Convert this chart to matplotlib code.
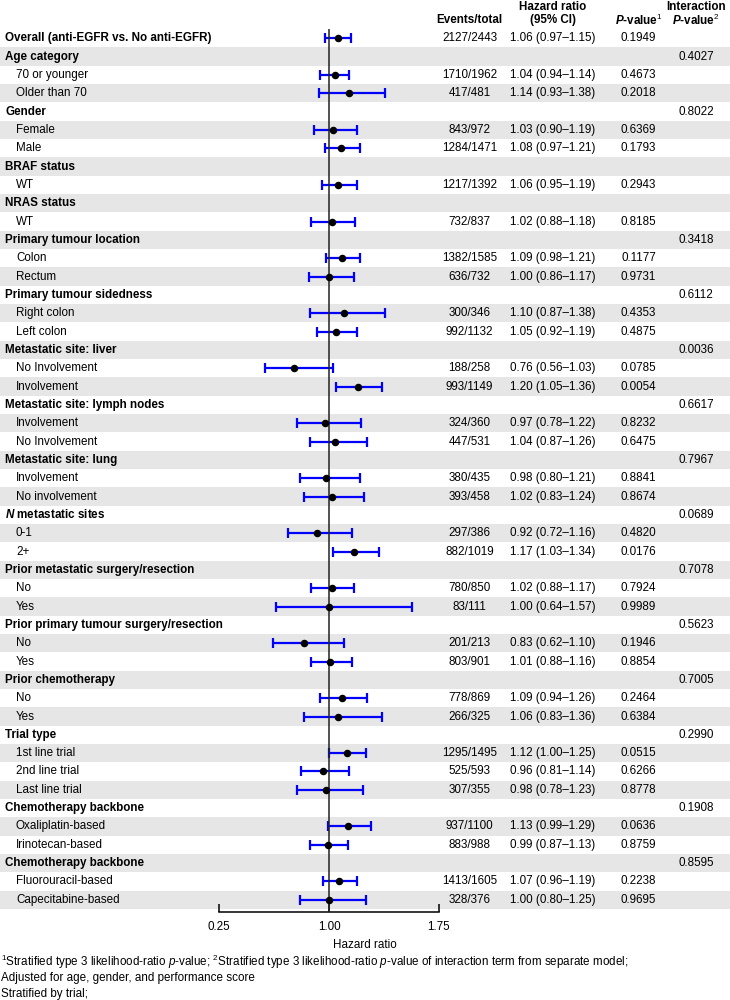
import matplotlib
matplotlib.use("Agg")
import matplotlib.pyplot as plt
import matplotlib.transforms as mtransforms
import numpy as np

plt.rcParams['font.family'] = ['Liberation Sans', 'DejaVu Sans']
plt.rcParams['mathtext.fontset'] = 'custom'
plt.rcParams['mathtext.rm'] = 'Liberation Sans'
plt.rcParams['mathtext.it'] = 'Liberation Sans:italic'
plt.rcParams['mathtext.bf'] = 'Liberation Sans:bold'
plt.rcParams['mathtext.bfit'] = 'Liberation Sans:bold:italic'

# ---------------- data ----------------
labels = [
    "Overall (anti-EGFR vs. No anti-EGFR)",
    "Age category", "70 or younger", "Older than 70",
    "Gender", "Female", "Male",
    "BRAF status", "WT",
    "NRAS status", "WT",
    "Primary tumour location", "Colon", "Rectum",
    "Primary tumour sidedness", "Right colon", "Left colon",
    "Metastatic site: liver", "No Involvement", "Involvement",
    "Metastatic site: lymph nodes", "Involvement", "No Involvement",
    "Metastatic site: lung", "Involvement", "No involvement",
    r"$\mathbfit{N}$ metastatic sites", "0-1", "2+",
    "Prior metastatic surgery/resection", "No", "Yes",
    "Prior primary tumour surgery/resection", "No", "Yes",
    "Prior chemotherapy", "No", "Yes",
    "Trial type", "1st line trial", "2nd line trial", "Last line trial",
    "Chemotherapy backbone", "Oxaliplatin-based", "Irinotecan-based",
    "Chemotherapy backbone", "Fluorouracil-based", "Capecitabine-based",
]
is_header = [
    1,
    1, 0, 0,
    1, 0, 0,
    1, 0,
    1, 0,
    1, 0, 0,
    1, 0, 0,
    1, 0, 0,
    1, 0, 0,
    1, 0, 0,
    1, 0, 0,
    1, 0, 0,
    1, 0, 0,
    1, 0, 0,
    1, 0, 0, 0,
    1, 0, 0,
    1, 0, 0,
]
events = [
    "2127/2443",
    "", "1710/1962", "417/481",
    "", "843/972", "1284/1471",
    "", "1217/1392",
    "", "732/837",
    "", "1382/1585", "636/732",
    "", "300/346", "992/1132",
    "", "188/258", "993/1149",
    "", "324/360", "447/531",
    "", "380/435", "393/458",
    "", "297/386", "882/1019",
    "", "780/850", "83/111",
    "", "201/213", "803/901",
    "", "778/869", "266/325",
    "", "1295/1495", "525/593", "307/355",
    "", "937/1100", "883/988",
    "", "1413/1605", "328/376",
]
hr = [
    1.06,
    None, 1.04, 1.14,
    None, 1.03, 1.08,
    None, 1.06,
    None, 1.02,
    None, 1.09, 1.00,
    None, 1.10, 1.05,
    None, 0.76, 1.20,
    None, 0.97, 1.04,
    None, 0.98, 1.02,
    None, 0.92, 1.17,
    None, 1.02, 1.00,
    None, 0.83, 1.01,
    None, 1.09, 1.06,
    None, 1.12, 0.96, 0.98,
    None, 1.13, 0.99,
    None, 1.07, 1.00,
]
ci_low = [
    0.97,
    None, 0.94, 0.93,
    None, 0.90, 0.97,
    None, 0.95,
    None, 0.88,
    None, 0.98, 0.86,
    None, 0.87, 0.92,
    None, 0.56, 1.05,
    None, 0.78, 0.87,
    None, 0.80, 0.83,
    None, 0.72, 1.03,
    None, 0.88, 0.64,
    None, 0.62, 0.88,
    None, 0.94, 0.83,
    None, 1.00, 0.81, 0.78,
    None, 0.99, 0.87,
    None, 0.96, 0.80,
]
ci_high = [
    1.15,
    None, 1.14, 1.38,
    None, 1.19, 1.21,
    None, 1.19,
    None, 1.18,
    None, 1.21, 1.17,
    None, 1.38, 1.19,
    None, 1.03, 1.36,
    None, 1.22, 1.26,
    None, 1.21, 1.24,
    None, 1.16, 1.34,
    None, 1.17, 1.57,
    None, 1.10, 1.16,
    None, 1.26, 1.36,
    None, 1.25, 1.14, 1.23,
    None, 1.29, 1.13,
    None, 1.19, 1.25,
]
p_value = [
    "0.1949",
    "", "0.4673", "0.2018",
    "", "0.6369", "0.1793",
    "", "0.2943",
    "", "0.8185",
    "", "0.1177", "0.9731",
    "", "0.4353", "0.4875",
    "", "0.0785", "0.0054",
    "", "0.8232", "0.6475",
    "", "0.8841", "0.8674",
    "", "0.4820", "0.0176",
    "", "0.7924", "0.9989",
    "", "0.1946", "0.8854",
    "", "0.2464", "0.6384",
    "", "0.0515", "0.6266", "0.8778",
    "", "0.0636", "0.8759",
    "", "0.2238", "0.9695",
]
p_interaction = [
    "",
    "0.4027", "", "",
    "0.8022", "", "",
    "", "",
    "", "",
    "0.3418", "", "",
    "0.6112", "", "",
    "0.0036", "", "",
    "0.6617", "", "",
    "0.7967", "", "",
    "0.0689", "", "",
    "0.7078", "", "",
    "0.5623", "", "",
    "0.7005", "", "",
    "0.2990", "", "", "",
    "0.1908", "", "",
    "0.8595", "", "",
]
x_ticks = [0.25, 1.00, 1.75]
x_tick_labels = ["0.25", "1.00", "1.75"]

# ---------------- layout ----------------
W, H = 730, 1000
FS = 8.4
row0_y = 38.3
row_h = 18.33
axis_y = 912
n = len(labels)
px_per_unit = 146.27
x_one = 329

fig = plt.figure(figsize=(W / 100, H / 100), dpi=100)
top_px = row0_y - row_h / 2
ax = fig.add_axes([0, 1 - axis_y / H, 1, (axis_y - top_px) / H])
ax.set_xlim(1 - x_one / px_per_unit, 1 + (W - x_one) / px_per_unit)
ax.set_ylim((n - 0.5) + (axis_y - (row0_y + (n - 0.5) * row_h)) / row_h, -0.5)

rows = np.arange(n)
for i in rows:
    if i % 2 == 1:
        ax.axhspan(i - 0.5, i + 0.5, xmin=0, xmax=1, color='#e6e6e6', lw=0, zorder=0)

# CIs
idx = [i for i in rows if hr[i] is not None]
hr_a = np.array([hr[i] for i in idx])
lo_a = np.array([ci_low[i] for i in idx])
hi_a = np.array([ci_high[i] for i in idx])
y_a = np.array(idx, dtype=float)
ax.errorbar(hr_a, y_a, xerr=[hr_a - lo_a, hi_a - hr_a], fmt='none',
            ecolor='#0000ff', elinewidth=1.6, capsize=3.9, capthick=1.6, zorder=2)
ax.axvline(1.0, ymin=0, ymax=1, color='#222222', lw=1.1, zorder=3)
ax.plot(hr_a, y_a, 'o', color='black', markersize=4.4, zorder=4)

# axis styling
for s in ['top', 'left', 'right']:
    ax.spines[s].set_visible(False)
ax.spines['bottom'].set_bounds(x_ticks[0], x_ticks[-1])
ax.spines['bottom'].set_linewidth(1.1)
ax.set_xticks(x_ticks)
ax.set_xticklabels(x_tick_labels, fontsize=FS)
ax.tick_params(axis='x', direction='in', length=5.8, width=1.1, pad=6.5)
ax.set_yticks([])
ax.set_xlabel("Hazard ratio", fontsize=FS, labelpad=4.5)
ax.patch.set_alpha(0)

trans = mtransforms.blended_transform_factory(fig.transFigure, ax.transData)

def fx(px):
    return px / W

col_events = 469.5
col_hr = 553
col_p = 638.5
col_pint = 696

for i in rows:
    if is_header[i]:
        ax.text(fx(5), i, labels[i], transform=trans, fontsize=FS, fontweight='bold',
                va='center', ha='left')
    else:
        ax.text(fx(16), i, labels[i], transform=trans, fontsize=FS,
                va='center', ha='left')
    if events[i]:
        ax.text(fx(col_events), i, events[i], transform=trans, fontsize=FS, va='center', ha='center')
    if hr[i] is not None:
        ax.text(fx(col_hr), i, f"{hr[i]:.2f} ({ci_low[i]:.2f}\u2013{ci_high[i]:.2f})",
                transform=trans, fontsize=FS, va='center', ha='center')
    if p_value[i]:
        ax.text(fx(col_p), i, p_value[i], transform=trans, fontsize=FS, va='center', ha='center')
    if p_interaction[i]:
        ax.text(fx(col_pint), i, p_interaction[i], transform=trans, fontsize=FS, va='center', ha='center')

# headers
y_l2 = (20 - row0_y) / row_h
y_l1 = (6.5 - row0_y) / row_h
hdr = dict(transform=trans, fontsize=FS, fontweight='bold', va='center', ha='center', clip_on=False)
ax.text(fx(col_events), y_l2, "Events/total", **hdr)
ax.text(fx(col_hr), y_l1, "Hazard ratio", **hdr)
ax.text(fx(col_hr), y_l2, "(95% CI)", **hdr)
ax.text(fx(col_p), y_l2, r"$\mathbfit{P}$-value$^{1}$", **hdr)
ax.text(fx(col_pint), y_l1, "Interaction", **hdr)
ax.text(fx(col_pint), y_l2, r"$\mathbfit{P}$-value$^{2}$", **hdr)

# footnotes
fig.text(fx(1), 1 - 962 / H,
         r"$^{1}$Stratified type 3 likelihood-ratio $p$-value; $^{2}$Stratified type 3 likelihood-ratio $p$-value of interaction term from separate model;",
         fontsize=FS, va='center', ha='left')
fig.text(fx(1), 1 - 978.5 / H, "Adjusted for age, gender, and performance score",
         fontsize=FS, va='center', ha='left')
fig.text(fx(1), 1 - 993.5 / H, "Stratified by trial;", fontsize=FS, va='center', ha='left')

fig.savefig("out.png", dpi=100)
